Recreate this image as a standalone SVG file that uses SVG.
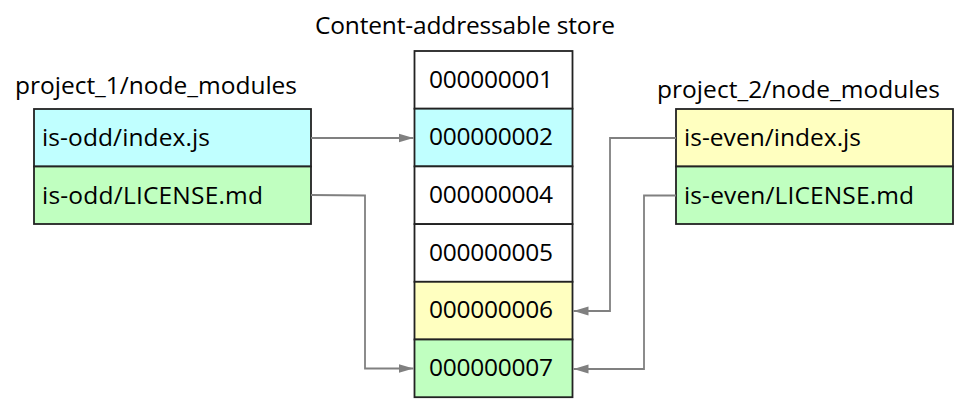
<svg xmlns="http://www.w3.org/2000/svg" width="975" height="402" viewBox="0 0 975 402">
<style>
text{font-family:"Open Sans","Noto Sans",sans-serif;font-size:24.5px;fill:#000}
.cell{stroke:#222;stroke-width:1.8}
.w{fill:#ffffff}.c{fill:#c0ffff}.g{fill:#c0ffc0}.y{fill:#ffffc0}
.conn{fill:none;stroke:#808080;stroke-width:1.8;marker-end:url(#ah)}
</style>
<defs>
<marker id="ah" markerWidth="16" markerHeight="10" refX="15" refY="5" orient="auto" markerUnits="userSpaceOnUse">
<path d="M0,0.5 L15,5 L0,9.5 Z" fill="#808080"/>
</marker>
</defs>
<rect width="975" height="402" fill="#ffffff"/>
<text x="315" y="34" textLength="300">Content-addressable store</text>
<text x="15" y="94" textLength="282">project_1/node_modules</text>
<text x="657" y="98" textLength="283">project_2/node_modules</text>
<g id="project1">
<g id="is-odd-index"><rect class="cell c" x="34" y="109" width="277" height="57.5"/><text x="42" y="146" textLength="168">is-odd/index.js</text></g>
<g id="is-odd-license"><rect class="cell g" x="34" y="166.5" width="277" height="57.5"/><text x="42" y="203.5" textLength="221">is-odd/LICENSE.md</text></g>
</g>
<g id="project2">
<g id="is-even-index"><rect class="cell y" x="676" y="109" width="277" height="57.5"/><text x="684" y="146" textLength="177">is-even/index.js</text></g>
<g id="is-even-license"><rect class="cell g" x="676" y="166.5" width="277" height="57.5"/><text x="684" y="203.5" textLength="230">is-even/LICENSE.md</text></g>
</g>
<g id="store">
<g id="s1"><rect class="cell w" x="414.5" y="51" width="158" height="57.7"/><text x="429" y="87.5" textLength="124">000000001</text></g>
<g id="s2"><rect class="cell c" x="414.5" y="108.7" width="158" height="57.7"/><text x="429" y="145.2" textLength="124">000000002</text></g>
<g id="s4"><rect class="cell w" x="414.5" y="166.4" width="158" height="57.7"/><text x="429" y="202.9" textLength="124">000000004</text></g>
<g id="s5"><rect class="cell w" x="414.5" y="224.1" width="158" height="57.7"/><text x="429" y="260.6" textLength="124">000000005</text></g>
<g id="s6"><rect class="cell y" x="414.5" y="281.8" width="158" height="57.7"/><text x="429" y="318.3" textLength="124">000000006</text></g>
<g id="s7"><rect class="cell g" x="414.5" y="339.5" width="158" height="57.7"/><text x="429" y="376" textLength="124">000000007</text></g>
</g>
<g id="connectors">
<path class="conn" d="M311,138 L413.5,138"/>
<path class="conn" d="M311,195 L365,195.5 L365,368.5 L413.5,368.5"/>
<path class="conn" d="M676,138 L610,138 L610,311 L573.5,311"/>
<path class="conn" d="M676,195.5 L644,195.5 L644,369 L573.5,369"/>
</g>
</svg>
